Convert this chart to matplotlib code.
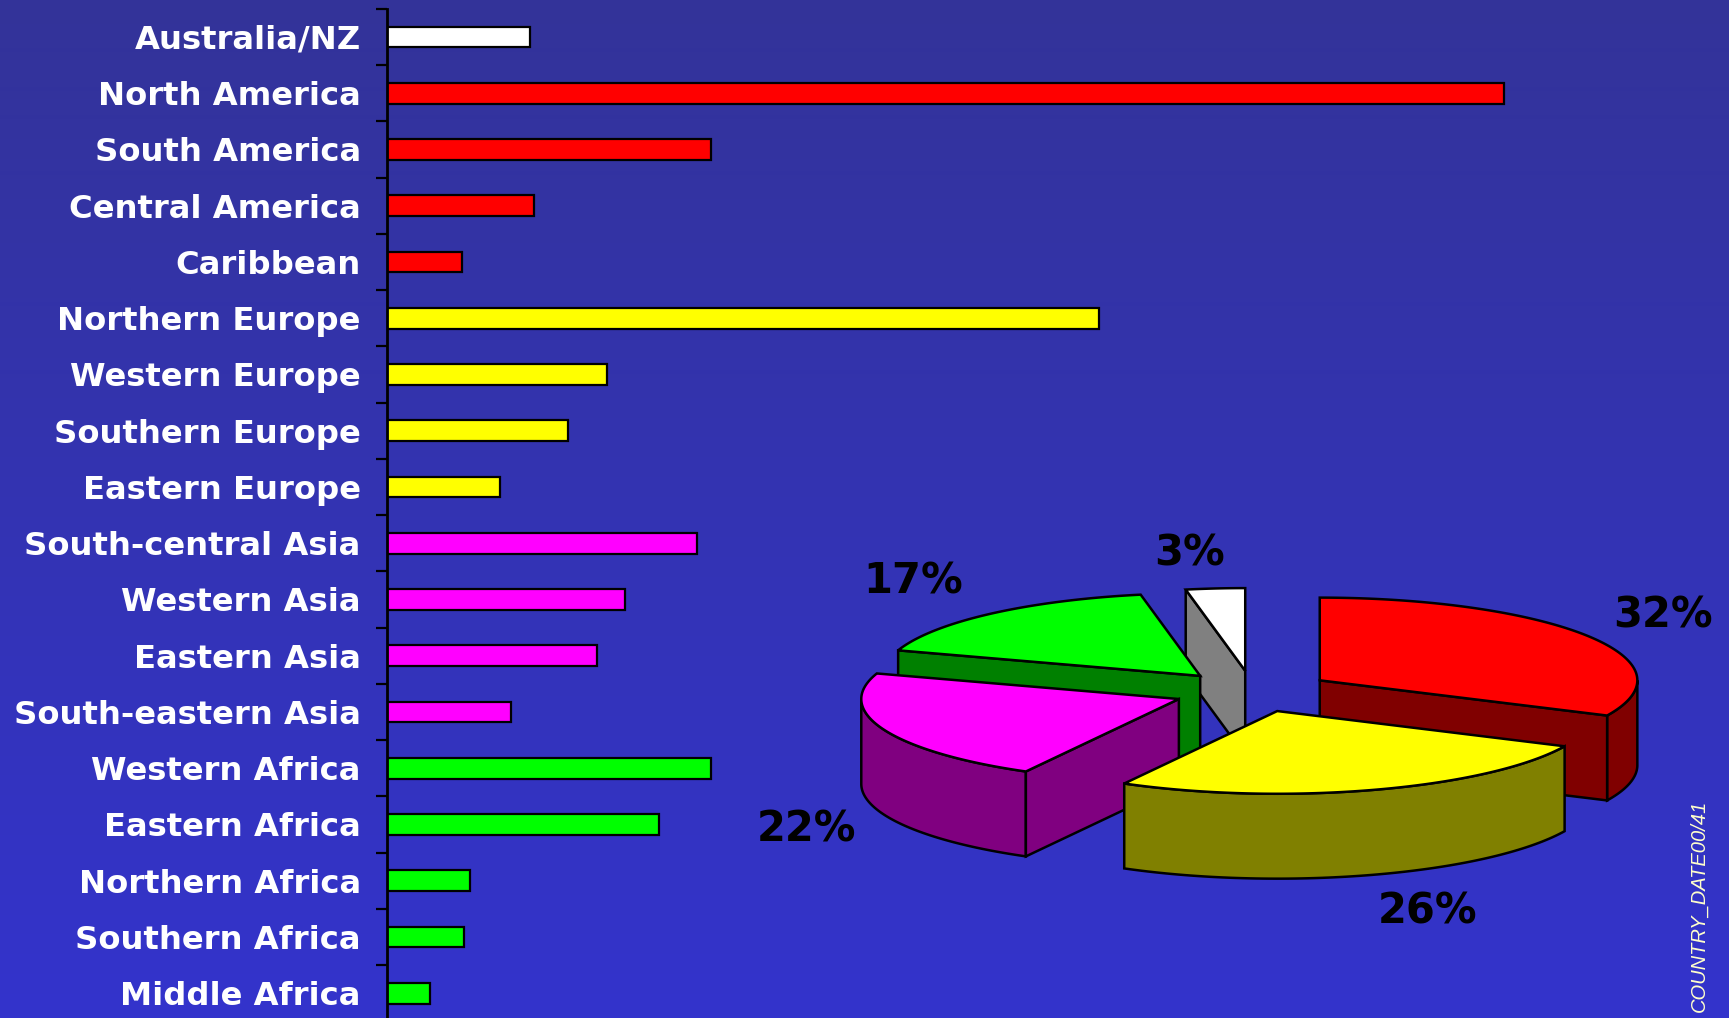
import numpy as np
import matplotlib
matplotlib.use("Agg")
import matplotlib.pyplot as plt
from matplotlib.patches import Polygon

# === Veriler ===
regions = ["Australia/NZ", "North America", "South America", "Central America", "Caribbean",
           "Northern Europe", "Western Europe", "Southern Europe", "Eastern Europe",
           "South-central Asia", "Western Asia", "Eastern Asia", "South-eastern Asia",
           "Western Africa", "Eastern Africa", "Northern Africa", "Southern Africa", "Middle Africa"]
values = [130, 1013, 294, 133, 68,
          646, 199, 164, 102,
          281, 216, 190, 112,
          294, 247, 75, 70, 39]
bar_colors = ["#FFFFFF"] + ["#FF0000"] * 4 + ["#FFFF00"] * 4 + ["#FF00FF"] * 4 + ["#00FF00"] * 5

pie_shares = [32, 26, 22, 17, 3]
pie_labels = ["32%", "26%", "22%", "17%", "3%"]
pie_top = ["#FF0000", "#FFFF00", "#FF00FF", "#00FF00", "#FFFFFF"]
pie_side = ["#800000", "#808000", "#800080", "#008000", "#808080"]
pie_label_xy = [(1663, 615), (1428, 911), (807, 829), (913, 581), (1190, 554)]

W, H = 1729, 1018
fig = plt.figure(figsize=(W / 100, H / 100), dpi=100)

# === Arka plan ===
bg = fig.add_axes([0, 0, 1, 1])
top_c = np.array([51, 51, 153]) / 255
bot_c = np.array([51, 51, 204]) / 255
t = np.linspace(0, 1, 256)[:, None]
grad = top_c[None, :] * (1 - t) + bot_c[None, :] * t
bg.imshow(grad[:, None, :], aspect="auto", extent=[0, 1, 0, 1])
bg.set_axis_off()

# === Bar grafiği ===
ax = fig.add_axes([0.2239, -0.00325, 0.7761, 0.99458])
ax.patch.set_alpha(0)
ypos = np.arange(len(regions))
ax.barh(ypos, values, height=0.37, color=bar_colors, edgecolor="black", linewidth=1.6)
ax.set_ylim(len(regions) - 0.5, -0.5)
ax.set_xlim(0, 1217)
for s in ["top", "right", "bottom"]:
    ax.spines[s].set_visible(False)
ax.spines["left"].set_linewidth(2)
ax.spines["left"].set_color("black")
ax.set_xticks([])
ax.set_yticks(ypos)
ax.set_yticklabels(regions, fontweight="bold", family="DejaVu Sans")
ax.tick_params(axis="y", which="major", length=0, pad=19, labelsize=23.2, labelcolor="white")
ax.set_yticks(np.arange(-0.5, len(regions), 1), minor=True)
ax.tick_params(axis="y", which="minor", length=8, width=1.6, color="black", direction="out")

# === 3B pasta ===
pax = fig.add_axes([0, 0, 1, 1])
pax.set_xlim(0, W)
pax.set_ylim(H, 0)
pax.set_axis_off()
pax.patch.set_alpha(0)

cx, cy = 1252.7, 691.4
a, b, depth = 317.6, 82.7, 84.9
explode = 0.25


def pt(th, ox, oy, dz=0.0):
    r = np.radians(th)
    return ox + a * np.cos(r), oy - b * np.sin(r) + dz


slices = []
start = 90.0
for share, tc, sc in zip(pie_shares, pie_top, pie_side):
    th2 = start
    th1 = start - share * 3.6
    start = th1
    mid = np.radians((th1 + th2) / 2)
    ox = cx + explode * a * np.cos(mid)
    oy = cy - explode * b * np.sin(mid)
    slices.append((oy, ox, th1, th2, tc, sc))

slices.sort(key=lambda s: s[0])
z = 3
for oy, ox, th1, th2, tc, sc in slices:
    polys = []
    # dış duvar (öne bakan kısım)
    for k in (-1, 0, 1):
        lo, hi = max(th1, 180 + 360 * k), min(th2, 360 + 360 * k)
        if hi > lo:
            arc = np.linspace(lo, hi, 80)
            topa = [pt(t_, ox, oy) for t_ in arc]
            bota = [pt(t_, ox, oy, depth) for t_ in arc[::-1]]
            polys.append(topa + bota)
    # radyal duvarlar
    for th, vis in ((th1, np.cos(np.radians(th1)) > 1e-6), (th2, np.cos(np.radians(th2)) < -1e-6)):
        if vis:
            polys.append([(ox, oy), pt(th, ox, oy), pt(th, ox, oy, depth), (ox, oy + depth)])
    for p in polys:
        pax.add_patch(Polygon(p, closed=True, facecolor=sc, edgecolor="black", linewidth=1.8, zorder=z))
    z += 1
    arc = np.linspace(th1, th2, 150)
    topface = [(ox, oy)] + [pt(t_, ox, oy) for t_ in arc]
    pax.add_patch(Polygon(topface, closed=True, facecolor=tc, edgecolor="black", linewidth=1.8, zorder=z))
    z += 1

for lab, (lx, ly) in zip(pie_labels, pie_label_xy):
    pax.text(lx, ly, lab, ha="center", va="center", fontsize=30, fontweight="bold",
             color="black", family="DejaVu Sans", zorder=50)

fig.text(0.9827, 0.006, "COUNTRY_DATE00/41", rotation=90, ha="center", va="bottom",
         fontstyle="italic", family="Liberation Sans", fontsize=14.5, color="#FFFFCC")

fig.savefig("out.png", dpi=100)
